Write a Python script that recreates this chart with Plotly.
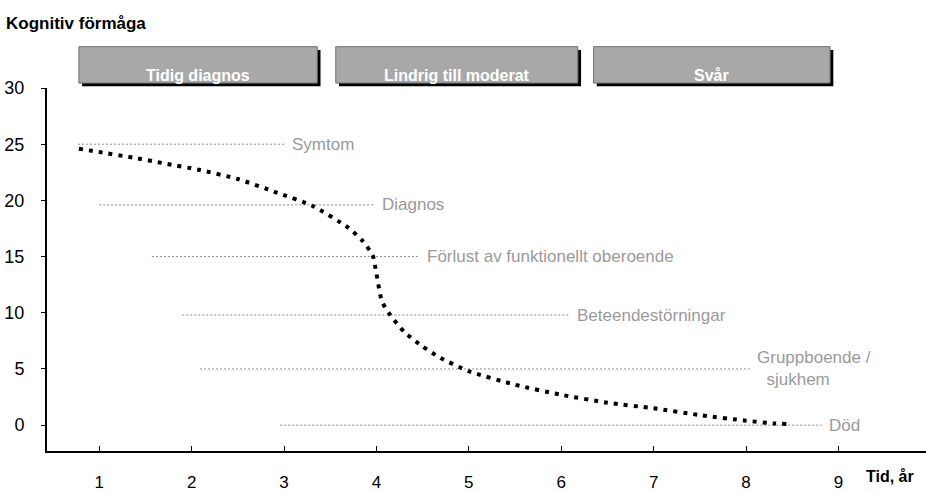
import plotly.graph_objects as go

# ---- data ----
curve_x = [0.78, 1.0, 1.37, 1.7, 2.09, 2.5, 2.92, 3.31, 3.69, 3.85, 3.96, 4.0, 4.06,
           4.15, 4.3, 4.5, 4.69, 5.0, 5.5, 6.0, 6.5, 7.0, 7.5, 8.0, 8.3, 8.45]
curve_y = [24.6, 24.3, 23.8, 23.3, 22.7, 21.9, 20.7, 19.5, 17.6, 16.4, 15.1, 13.5, 11.0,
           9.8, 8.3, 7.0, 6.0, 4.8, 3.6, 2.7, 2.0, 1.5, 0.9, 0.4, 0.15, 0.1]

milestone_labels = ["Symtom", "Diagnos", "Förlust av funktionellt oberoende",
                    "Beteendestörningar", "Gruppboende /<br>\u00a0\u00a0sjukhem", "Död"]
milestone_y = [25, 19.6, 15, 9.8, 5, 0]
milestone_x_start = [0.77, 1.0, 1.57, 1.9, 2.09, 2.96]
milestone_x_end = [3.01, 3.98, 4.47, 6.09, 8.04, 8.82]

phase_labels = ["Tidig diagnos", "Lindrig till moderat", "Svår"]

x_ticks = [1, 2, 3, 4, 5, 6, 7, 8, 9]
y_ticks = [0, 5, 10, 15, 20, 25, 30]

# ---- figure ----
fig = go.Figure()

for xs, xe, y in zip(milestone_x_start, milestone_x_end, milestone_y):
    fig.add_trace(go.Scatter(x=[xs, xe], y=[y, y], mode="lines",
                             line=dict(color="#8a8a8a", width=1, dash="2px,2px"),
                             hoverinfo="skip", showlegend=False))

fig.add_trace(go.Scatter(x=curve_x, y=curve_y, mode="lines",
                         line=dict(color="black", width=4, dash="4px,6px", shape="spline",
                                   smoothing=0.6),
                         showlegend=False))

for lab, xe, y in zip(milestone_labels, milestone_x_end, milestone_y):
    fig.add_annotation(x=xe, y=y, xref="x", yref="y", text=lab, showarrow=False,
                       xanchor="left", yanchor="middle", xshift=5, align="left",
                       font=dict(family="Liberation Sans", size=17, color="#9a9a9a"))

# plot area in pixels: left 47, top 88, width 879, height 369
def px_to_paper_x(px):
    return (px - 47) / 879

def px_to_paper_y(py):
    return (457 - py) / 369

# phase buttons (x in data units, y in paper units above the plot)
box_x = [(0.78, 3.36), (3.56, 6.18), (6.35, 8.91)]
y0p, y1p = px_to_paper_y(83), px_to_paper_y(46)
for lab, (xa, xb) in zip(phase_labels, box_x):
    fig.add_shape(type="rect", xref="x", yref="paper", x0=xa + 0.035, x1=xb + 0.035,
                  y0=y0p - 0.009, y1=y1p - 0.009, fillcolor="black", line_width=0, layer="above")
    fig.add_shape(type="rect", xref="x", yref="paper", x0=xa, x1=xb, y0=y0p, y1=y1p,
                  fillcolor="#a8a8a8", line=dict(color="#707070", width=1), layer="above")
    fig.add_annotation(x=(xa + xb) / 2, y=(y0p + y1p) / 2, xref="x", yref="paper",
                       text="<b>" + lab + "</b>", showarrow=False,
                       font=dict(family="Liberation Sans", size=16, color="white"))

fig.add_annotation(x=px_to_paper_x(4), y=px_to_paper_y(22), xref="paper", yref="paper",
                   text="<b>Kognitiv förmåga</b>", showarrow=False,
                   xanchor="left", yanchor="middle",
                   font=dict(family="Liberation Sans", size=17, color="black"))
fig.add_annotation(x=px_to_paper_x(864), y=px_to_paper_y(483), xref="paper", yref="paper",
                   text="<b>Tid, år</b>", showarrow=False,
                   xanchor="left", yanchor="middle",
                   font=dict(family="Liberation Sans", size=16, color="black"))

fig.update_layout(
    width=926, height=492,
    margin=dict(l=47, r=0, t=88, b=35),
    plot_bgcolor="white", paper_bgcolor="white",
    xaxis=dict(range=[0.435, 0.435 + 879 / 92.4], tickvals=x_ticks, showgrid=False,
               zeroline=False, showline=True, linecolor="black", linewidth=2,
               ticks="inside", ticklen=5, tickcolor="black", ticklabelstandoff=15,
               tickfont=dict(family="Liberation Sans", size=17, color="black")),
    yaxis=dict(range=[-2.3, 30], tickvals=y_ticks, showgrid=False, zeroline=False,
               showline=True, linecolor="black", linewidth=2,
               ticks="outside", ticklen=4, tickcolor="black", ticklabelstandoff=13,
               tickfont=dict(family="Liberation Sans", size=18, color="black")),
)

fig.write_html("out.html", config={"displayModeBar": False},
               post_script="document.body.style.margin='0';document.body.style.overflow='hidden';")
